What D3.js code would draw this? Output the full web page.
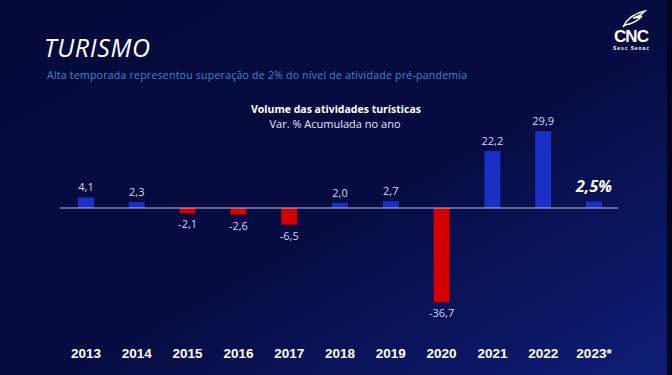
<!DOCTYPE html>
<html>
<head>
<meta charset="utf-8">
<script src="https://cdn.jsdelivr.net/npm/d3@7"></script>
<style>
  html, body { margin: 0; padding: 0; background: #060b3e; }
  svg { display: block; }
</style>
</head>
<body>
<div id="chart"></div>
<script>
// data
const years = ["2013", "2014", "2015", "2016", "2017", "2018", "2019", "2020", "2021", "2022", "2023*"];
const values = [4.1, 2.3, -2.1, -2.6, -6.5, 2.0, 2.7, -36.7, 22.2, 29.9, 2.5];
const valueLabels = ["4,1", "2,3", "-2,1", "-2,6", "-6,5", "2,0", "2,7", "-36,7", "22,2", "29,9", "2,5%"];

const width = 672, height = 375;

const svg = d3.select("#chart").append("svg")
    .attr("width", width)
    .attr("height", height);

// background gradient, lighter blue towards the lower right
const defs = svg.append("defs");
const grad = defs.append("linearGradient")
    .attr("id", "bg")
    .attr("x1", "0%").attr("y1", "0%")
    .attr("x2", "100%").attr("y2", "100%");
grad.append("stop").attr("offset", "0%").attr("stop-color", "#050a3a");
grad.append("stop").attr("offset", "55%").attr("stop-color", "#060c42");
grad.append("stop").attr("offset", "100%").attr("stop-color", "#0f1d78");

svg.append("rect")
    .attr("width", width).attr("height", height)
    .attr("fill", "url(#bg)");

svg.append("rect")
    .attr("x", 667).attr("y", 0)
    .attr("width", 5).attr("height", height)
    .attr("fill", "#03051c");

// header
svg.append("text")
    .attr("x", 44).attr("y", 57)
    .attr("font-family", "'Open Sans', sans-serif")
    .attr("font-style", "italic")
    .attr("font-size", 25)
    .attr("fill", "#ffffff")
    .attr("textLength", 106)
    .text("TURISMO");

svg.append("text")
    .attr("x", 47).attr("y", 79)
    .attr("font-family", "'Open Sans', sans-serif")
    .attr("font-size", 10.5)
    .attr("fill", "#3f88cc")
    .attr("textLength", 420)
    .text("Alta temporada representou superação de 2% do nível de atividade pré-pandemia");

// logo
const logo = svg.append("g").attr("transform", "translate(631, 0)");
logo.append("path")
    .attr("d", "M-8,27 C-4,19 4,13 14,11 C10,15 6,17 2,18 C6,18 9,17 11,16 C6,22 0,24 -6,25 Z")
    .attr("fill", "none")
    .attr("stroke", "#ffffff")
    .attr("stroke-width", 1.4);
logo.append("text")
    .attr("x", 0).attr("y", 42)
    .attr("text-anchor", "middle")
    .attr("font-family", "'Liberation Sans', Arial, sans-serif")
    .attr("font-weight", "bold")
    .attr("font-size", 17)
    .attr("letter-spacing", -1)
    .attr("fill", "#ffffff")
    .text("CNC");
logo.append("text")
    .attr("x", 0).attr("y", 50)
    .attr("text-anchor", "middle")
    .attr("font-family", "'Liberation Sans', Arial, sans-serif")
    .attr("font-weight", "bold")
    .attr("font-size", 5)
    .attr("fill", "#ffffff")
    .attr("textLength", 36)
    .text("Sesc  Senac");

// chart titles
svg.append("text")
    .attr("x", 336).attr("y", 113)
    .attr("text-anchor", "middle")
    .attr("font-family", "'Open Sans', sans-serif")
    .attr("font-weight", "bold")
    .attr("font-size", 10.5)
    .attr("fill", "#ffffff")
    .attr("textLength", 170)
    .text("Volume das atividades turísticas");

svg.append("text")
    .attr("x", 335).attr("y", 128)
    .attr("text-anchor", "middle")
    .attr("font-family", "'Open Sans', sans-serif")
    .attr("font-size", 11)
    .attr("fill", "#e6e6f6")
    .text("Var. % Acumulada no ano");

// scales
const x = d3.scaleBand()
    .domain(years)
    .range([60.6, 619.4])
    .paddingInner(0.685)
    .paddingOuter(0.3425);

const y = d3.scaleLinear()
    .domain([-40, 35])
    .range([310.8, 118.05]);

const data = years.map((yr, i) => ({ year: yr, value: values[i], label: valueLabels[i] }));

// bars
svg.selectAll(".bar")
    .data(data)
    .enter()
    .append("rect")
    .attr("class", "bar")
    .attr("x", d => x(d.year))
    .attr("width", x.bandwidth())
    .attr("y", d => y(Math.max(0, d.value)))
    .attr("height", d => Math.abs(y(d.value) - y(0)))
    .attr("fill", d => d.value >= 0 ? "#1a2fc4" : "#d40000");

// zero line
svg.append("line")
    .attr("x1", 60).attr("x2", 618)
    .attr("y1", y(0)).attr("y2", y(0))
    .attr("stroke", "#b8bce0")
    .attr("stroke-width", 1);

// value labels
svg.selectAll(".val")
    .data(data)
    .enter()
    .append("text")
    .attr("class", "val")
    .attr("x", d => x(d.year) + x.bandwidth() / 2)
    .attr("y", d => {
        if (d.year === "2023*") return y(d.value) - 10;
        return d.value >= 0 ? y(d.value) - 6 : y(d.value) + 15;
    })
    .attr("text-anchor", "middle")
    .attr("font-family", "'Open Sans', sans-serif")
    .attr("font-size", d => d.year === "2023*" ? 16 : 11)
    .attr("font-weight", d => d.year === "2023*" ? "bold" : "normal")
    .attr("font-style", d => d.year === "2023*" ? "italic" : "normal")
    .attr("fill", d => d.year === "2023*" ? "#ffffff" : "#d4d4f2")
    .text(d => d.label);

// year axis
const xAxis = svg.append("g")
    .attr("transform", "translate(0, 358)")
    .call(d3.axisBottom(x).tickSize(0).tickPadding(0));
xAxis.select(".domain").remove();
xAxis.selectAll("text")
    .attr("dy", 0)
    .attr("font-family", "'Liberation Sans', Arial, sans-serif")
    .attr("font-weight", "bold")
    .attr("font-size", 13.5)
    .attr("fill", "#ffffff");
</script>
</body>
</html>
